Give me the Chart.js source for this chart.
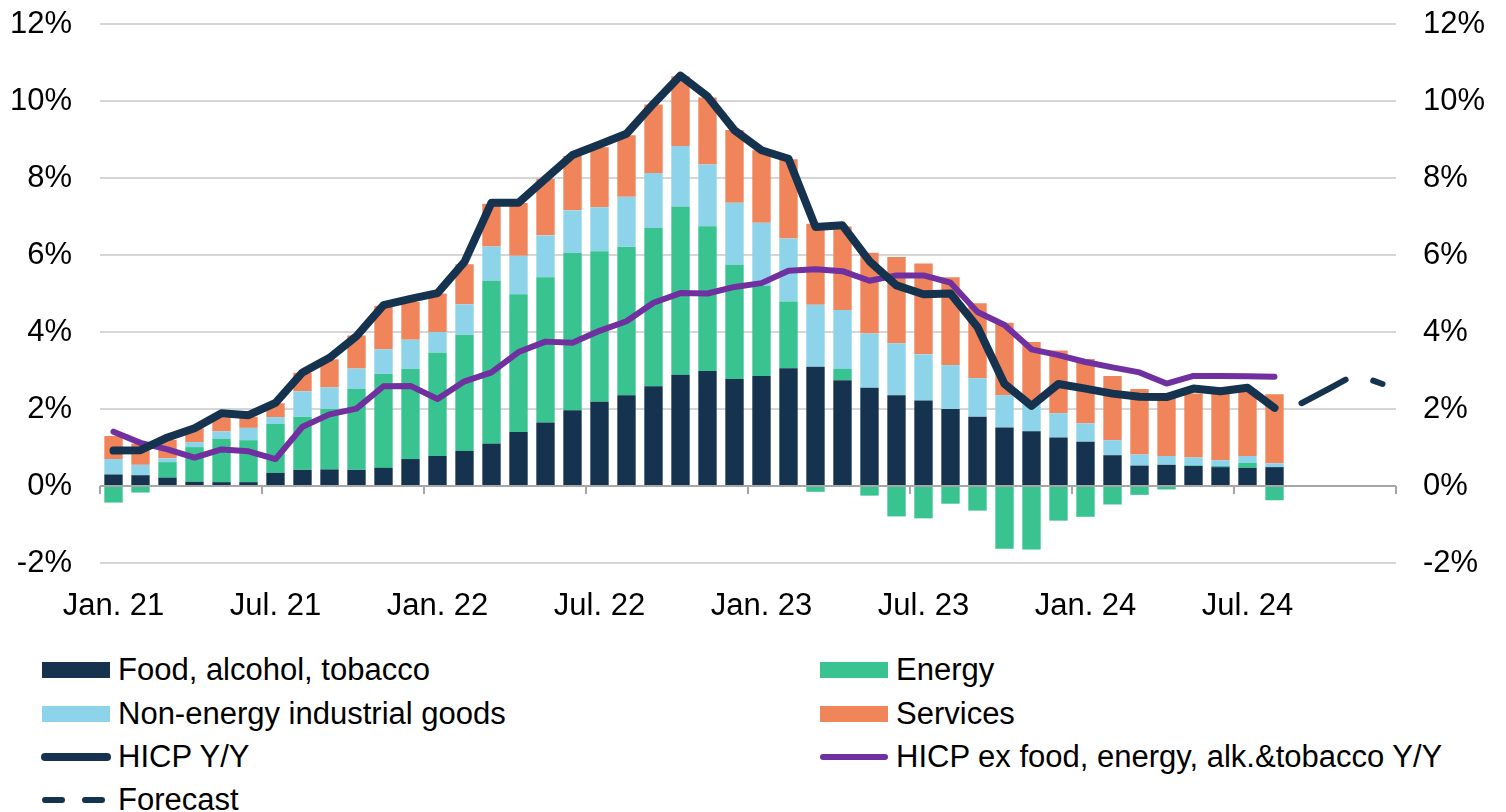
<!DOCTYPE html>
<html>
<head>
<meta charset="utf-8">
<script src="https://cdn.jsdelivr.net/npm/chart.js@4.4.1/dist/chart.umd.min.js"></script>
<style>
  html, body { margin:0; padding:0; background:#fff; }
  body { width:1506px; height:812px; overflow:hidden; font-family:'Liberation Sans', Arial, sans-serif; }
  #wrap { position:relative; width:1506px; height:632px; }
  #legend { position:relative; width:1506px; height:180px; }
  .item { position:absolute; height:40px; display:flex; align-items:center; font-size:31px; color:#000; white-space:nowrap; }
  .item svg { margin-right:6px; flex:none; }
</style>
</head>
<body>
<div id="wrap"><canvas id="chart"></canvas></div>
<div id="legend"></div>
<script>
// months Jan 21 .. Dec 24
const months = [
  'Jan. 21','Feb. 21','Mar. 21','Apr. 21','May. 21','Jun. 21','Jul. 21','Aug. 21','Sep. 21','Oct. 21','Nov. 21','Dec. 21',
  'Jan. 22','Feb. 22','Mar. 22','Apr. 22','May. 22','Jun. 22','Jul. 22','Aug. 22','Sep. 22','Oct. 22','Nov. 22','Dec. 22',
  'Jan. 23','Feb. 23','Mar. 23','Apr. 23','May. 23','Jun. 23','Jul. 23','Aug. 23','Sep. 23','Oct. 23','Nov. 23','Dec. 23',
  'Jan. 24','Feb. 24','Mar. 24','Apr. 24','May. 24','Jun. 24','Jul. 24','Aug. 24','Sep. 24','Oct. 24','Nov. 24','Dec. 24'
];

// contributions, percentage points
const food = [0.30,0.28,0.22,0.11,0.10,0.10,0.34,0.42,0.43,0.42,0.47,0.70,0.78,0.91,1.10,1.40,1.65,1.97,2.19,2.36,2.59,2.89,2.99,2.78,
  2.86,3.06,3.10,2.75,2.55,2.36,2.22,2.00,1.80,1.52,1.42,1.26,1.15,0.80,0.53,0.55,0.52,0.49,0.47,0.49];
const energy = [-0.43,-0.17,0.40,0.90,1.13,1.09,1.27,1.38,1.57,2.10,2.44,2.34,2.68,3.02,4.23,3.58,3.77,4.08,3.91,3.85,4.11,4.37,3.76,2.97,
  2.34,1.73,-0.15,0.29,-0.25,-0.79,-0.84,-0.46,-0.64,-1.63,-1.65,-0.90,-0.80,-0.48,-0.23,-0.09,0.02,0.03,0.13,-0.37];
const goods = [0.40,0.27,0.10,0.13,0.19,0.32,0.18,0.66,0.56,0.53,0.64,0.76,0.54,0.79,0.89,1.00,1.09,1.11,1.14,1.30,1.43,1.57,1.60,1.61,
  1.64,1.64,1.61,1.53,1.41,1.35,1.20,1.14,1.00,0.84,0.73,0.63,0.48,0.39,0.29,0.23,0.20,0.15,0.18,0.10];
const services = [0.60,0.55,0.48,0.36,0.36,0.29,0.36,0.48,0.73,0.86,1.13,0.98,1.00,1.04,1.11,1.37,1.47,1.41,1.56,1.60,1.78,1.81,1.74,1.89,
  1.88,2.06,2.10,2.17,2.10,2.24,2.36,2.28,1.95,1.88,1.59,1.63,1.67,1.67,1.70,1.52,1.66,1.72,1.73,1.79];

// headline and core, y/y %
const hicp = [0.92,0.93,1.26,1.50,1.89,1.84,2.16,2.95,3.33,3.89,4.70,4.86,5.01,5.82,7.36,7.36,7.98,8.60,8.87,9.15,9.93,10.66,10.12,9.24,
  8.72,8.50,6.73,6.77,5.84,5.21,4.98,5.00,4.13,2.65,2.08,2.65,2.53,2.40,2.32,2.31,2.53,2.46,2.55,2.03];
const core = [1.41,1.12,0.95,0.74,0.95,0.90,0.70,1.54,1.86,2.01,2.59,2.60,2.26,2.72,2.95,3.48,3.75,3.72,4.03,4.28,4.76,5.01,5.00,5.17,
  5.27,5.59,5.63,5.58,5.33,5.47,5.47,5.28,4.52,4.18,3.55,3.40,3.22,3.08,2.95,2.66,2.86,2.86,2.85,2.84];
const forecast = [...new Array(44).fill(null), 2.15, 2.52, 2.90, 2.65];

const yTicks = [-2, 0, 2, 4, 6, 8, 10, 12];

const NAVY = '#15334f', GREEN = '#38c391', LBLUE = '#8dd4ea', ORANGE = '#f0845a', PURPLE = '#7030a0';

Chart.defaults.font.family = "'Liberation Sans', Arial, sans-serif";
Chart.defaults.color = '#000';

// zero line with tick marks every six months (x axis crosses at 0)
const zeroAxis = {
  id: 'zeroAxis',
  beforeDatasetsDraw(chart) {
    const {ctx, scales: {x, y}} = chart;
    const y0 = y.getPixelForValue(0);
    const band = x.getPixelForValue(1) - x.getPixelForValue(0);
    const start = x.getPixelForValue(0) - band / 2;
    ctx.save();
    ctx.strokeStyle = '#a6a6a6';
    ctx.lineWidth = 2;
    ctx.beginPath();
    ctx.moveTo(x.left, y0);
    ctx.lineTo(x.right, y0);
    for (let i = 0; i <= months.length; i += 6) {
      const px = Math.round(start + i * band);
      ctx.moveTo(px, y0);
      ctx.lineTo(px, y0 + 8);
    }
    ctx.stroke();
    ctx.restore();
  }
};

const bar = (label, data, color) => ({
  type: 'bar', label, data, backgroundColor: color, yAxisID: 'y',
  barPercentage: 0.68, categoryPercentage: 1, order: 2, legendType: 'box'
});
const line = (label, data, color, width, dash) => ({
  type: 'line', label, data, borderColor: color, backgroundColor: color, borderWidth: width,
  borderDash: dash || [], borderCapStyle: 'round', borderJoinStyle: 'round',
  pointRadius: 0, pointHoverRadius: 0, tension: 0, yAxisID: 'y2', order: 1, spanGaps: false,
  legendType: dash ? 'dash' : 'line'
});

const datasets = [
  bar('Food, alcohol, tobacco', food, NAVY),
  bar('Energy', energy, GREEN),
  bar('Non-energy industrial goods', goods, LBLUE),
  bar('Services', services, ORANGE),
  line('HICP Y/Y', hicp, NAVY, 8),
  line('HICP ex food, energy, alk.&tobacco Y/Y', core, PURPLE, 6),
  line('Forecast', forecast, NAVY, 6, [50, 30])
];

// fixed axis sizes; drop the label overhang so the plot starts where the reference does
const fitY = w => s => { s.width = w; s.paddingTop = 0; s.paddingBottom = 0; };

const axisFont = {size: 31};
const chart = new Chart(document.getElementById('chart'), {
  data: {labels: months, datasets},
  plugins: [zeroAxis],
  options: {
    responsive: true,
    maintainAspectRatio: false,
    animation: false,
    layout: {padding: {top: 24, left: 0, right: 0, bottom: 0}},
    plugins: {legend: {display: false}, tooltip: {enabled: false}},
    scales: {
      x: {
        stacked: true,
        offset: true,
        grid: {display: false},
        border: {display: false},
        ticks: {
          font: axisFont, autoSkip: false, maxRotation: 0, minRotation: 0, padding: 17,
          callback: (v, i) => i % 6 === 0 ? months[i] : ''
        },
        afterFit: s => { s.height = 69; }
      },
      y: {
        position: 'left',
        stacked: true,
        min: -2, max: 12,
        afterBuildTicks: s => { s.ticks = yTicks.map(v => ({value: v})); },
        grid: {color: '#d6d6d6', lineWidth: 2, drawTicks: false},
        border: {display: false},
        ticks: {font: axisFont, padding: 28, callback: v => v + '%'},
        afterFit: fitY(100)
      },
      y2: {
        position: 'right',
        min: -2, max: 12,
        afterBuildTicks: s => { s.ticks = yTicks.map(v => ({value: v})); },
        grid: {drawOnChartArea: false, drawTicks: false},
        border: {display: false},
        ticks: {font: axisFont, padding: 27, callback: v => v + '%'},
        afterFit: fitY(110)
      }
    }
  }
});

// two-column legend below the chart
const legendPos = [
  [40, 18], [818, 18],
  [40, 62], [818, 62],
  [40, 105], [818, 105],
  [40, 148]
];
const legendEl = document.getElementById('legend');
datasets.forEach((ds, i) => {
  const color = ds.type === 'bar' ? ds.backgroundColor : ds.borderColor;
  let mark;
  if (ds.legendType === 'box') {
    mark = `<rect x="2" y="12" width="68" height="16" fill="${color}"/>`;
  } else if (ds.legendType === 'line') {
    mark = `<line x1="5" y1="20" x2="67" y2="20" stroke="${color}" stroke-width="${ds.borderWidth}" stroke-linecap="round"/>`;
  } else {
    mark = `<line x1="5" y1="20" x2="67" y2="20" stroke="${color}" stroke-width="${ds.borderWidth}" stroke-linecap="round" stroke-dasharray="17 23"/>`;
  }
  const item = document.createElement('div');
  item.className = 'item';
  item.style.left = legendPos[i][0] + 'px';
  item.style.top = legendPos[i][1] + 'px';
  item.innerHTML = `<svg width="72" height="40">${mark}</svg><span>${ds.label}</span>`;
  legendEl.appendChild(item);
});
</script>
</body>
</html>
